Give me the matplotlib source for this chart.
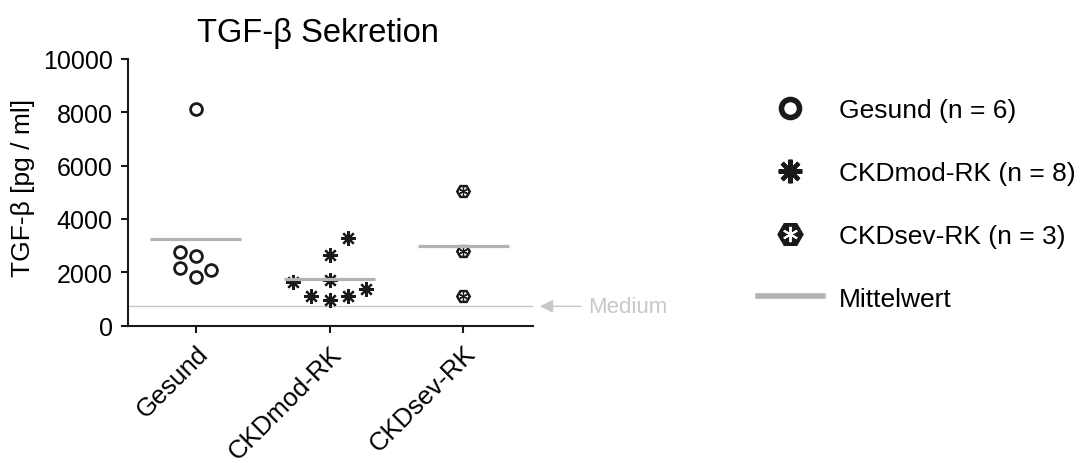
import matplotlib
matplotlib.use("Agg")
import matplotlib.pyplot as plt
from matplotlib.lines import Line2D
from matplotlib.legend_handler import HandlerTuple
import numpy as np

plt.rcParams['font.family'] = ['Liberation Sans', 'DejaVu Sans']

# data (pg/ml)
groups = ["Gesund", "CKDmod-RK", "CKDsev-RK"]
gesund = [8125, 2750, 2630, 2150, 2100, 1815]
ckd_mod = [1650, 1726, 2664, 3279, 1103, 976, 1103, 1377]
ckd_sev = [5040, 2790, 1100]
medium = 727
legend_labels = ["Gesund (n = 6)", "CKDmod-RK (n = 8)", "CKDsev-RK (n = 3)", "Mittelwert"]

# horizontal scatter of the dots
jit_gesund = [0, -0.12, 0, -0.12, 0.11, 0]
jit_mod = [-0.27, 0, 0, 0.14, -0.14, 0, 0.14, 0.27]
jit_sev = [0, 0, 0]

dark = "#1a1a1a"
mean_col = "#b3b3b3"
light = "#c8c8c8"

fig = plt.figure(figsize=(10.8, 4.64), dpi=100)
ax = fig.add_axes([0.1185, 0.296, 0.375, 0.5747])

ax.axhline(medium, color=light, lw=1.0, zorder=1)

ax.plot(np.array(jit_gesund) + 0, gesund, 'o', ls='none', ms=8.5, mfc='white',
        mec=dark, mew=2.0, zorder=3)
ax.plot(np.array(jit_mod) + 1, ckd_mod, marker=(8, 2, 0), ls='none', ms=10.5,
        mec=dark, mew=1.6, zorder=3)
ax.plot(np.array(jit_sev) + 2, ckd_sev, 'H', ls='none', ms=9, mfc='white',
        mec=dark, mew=1.8, zorder=3)
ax.plot(np.array(jit_sev) + 2, ckd_sev, marker=(6, 2, 0), ls='none', ms=6.5,
        mec=dark, mew=0.9, zorder=3)

for i, vals in enumerate([gesund, ckd_mod, ckd_sev]):
    m = np.mean(vals)
    ax.plot([i - 0.34, i + 0.34], [m, m], color=mean_col, lw=2.3, zorder=4,
            solid_capstyle='butt')

ax.set_xlim(-0.507, 2.52)
ax.set_ylim(0, 10000)
ax.set_yticks([0, 2000, 4000, 6000, 8000, 10000])
ax.set_xticks(range(3))
ax.set_xticklabels(groups, rotation=45, ha='right', rotation_mode='anchor',
                   fontsize=18.5)
ax.tick_params(axis='y', labelsize=18, length=5, width=1.5, color=dark, pad=6)
ax.tick_params(axis='x', length=5, width=1.5, color=dark, pad=6)
for s in ['top', 'right']:
    ax.spines[s].set_visible(False)
for s in ['left', 'bottom']:
    ax.spines[s].set_linewidth(1.5)
    ax.spines[s].set_color(dark)

ax.set_ylabel("TGF-β [pg / ml]", fontsize=19)
ax.yaxis.set_label_coords(-0.23, 0.52)
ax.set_title("TGF-β Sekretion", fontsize=23.5, pad=13, x=0.47)

ax.annotate("Medium", xy=(1.017, medium), xycoords=('axes fraction', 'data'),
            xytext=(1.136, medium), textcoords=('axes fraction', 'data'),
            ha='left', va='center', fontsize=16, color=light,
            arrowprops=dict(arrowstyle='-|>,head_length=0.5,head_width=0.25',
                            color=light, lw=1.0, shrinkA=3, shrinkB=0))

h1 = Line2D([], [], marker='o', ls='none', ms=13, mfc='white', mec=dark, mew=4)
h2 = Line2D([], [], marker=(8, 2, 0), ls='none', ms=17, mec=dark, mew=3)
h3a = Line2D([], [], marker='H', ls='none', ms=18, mfc=dark, mec=dark, mew=1)
h3b = Line2D([], [], marker=(6, 2, 0), ls='none', ms=11, mec='white', mew=1.4)
h4 = Line2D([], [], color=mean_col, lw=4)
fig.legend([h1, h2, (h3a, h3b), h4], legend_labels,
           handler_map={tuple: HandlerTuple(ndivide=1)},
           loc='upper left', bbox_to_anchor=(0.702, 0.786), frameon=False,
           fontsize=19, handlelength=2.45, handletextpad=0.62,
           labelspacing=1.47, borderpad=0, borderaxespad=0)

fig.savefig("out.png", dpi=100)
